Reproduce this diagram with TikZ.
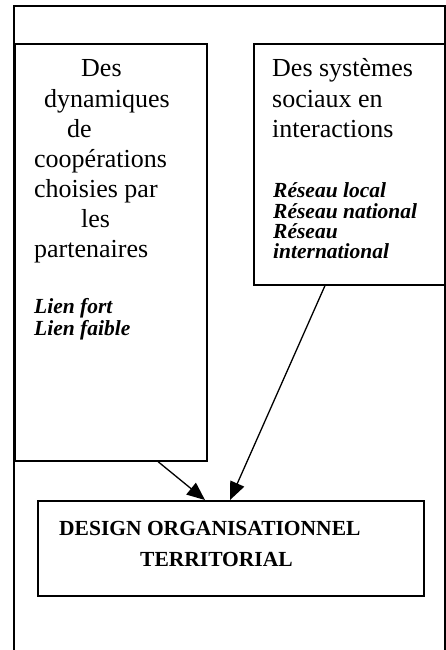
\documentclass[tikz,border=0pt]{standalone}
\usepackage{fontspec}
\setmainfont{Liberation Serif}
\usetikzlibrary{arrows.meta}
\begin{document}
\begin{tikzpicture}[x=1pt,y=-1pt,
  frame/.style={line width=1.6pt},
  boxnode/.style={draw,line width=1.6pt,anchor=north west,inner sep=0pt},
  txt/.style={anchor=base west,inner sep=0pt,font=\fontsize{26}{30}\selectfont},
  itx/.style={anchor=base west,inner sep=0pt,font=\fontsize{21.5}{21}\selectfont\bfseries\itshape},
  bld/.style={anchor=base west,inner sep=0pt,font=\fontsize{21.5}{30}\selectfont\bfseries},
  arr/.style={line width=1.3pt,-{Triangle[length=18pt,width=15pt]}}]
\useasboundingbox (0,0) rectangle (446,650);
% outer frame (open at bottom)
\draw[frame] (14,660) -- (14,6) -- (445,6) -- (445,660);
% boxes
\node[boxnode,minimum width=192pt,minimum height=417pt] (L) at (14,43) {};
\node[boxnode,minimum width=192pt,minimum height=241pt] (R) at (253,43) {};
\node[boxnode,minimum width=386pt,minimum height=95pt] (B) at (37,500) {};
% left box text
\node[txt] (l1) at (81,77) {Des};
\node[txt] (l2) at (44,107) {dynamiques};
\node[txt] (l3) at (67,137) {de};
\node[txt] (l4) at (34,167) {coopérations};
\node[txt] (l5) at (34,197) {choisies par};
\node[txt] (l6) at (81,227) {les};
\node[txt] (l7) at (34,257) {partenaires};
\node[itx] (l8) at (34,313) {Lien fort};
\node[itx] (l9) at (34,335) {Lien faible};
% right box text
\node[txt] (r1) at (272,77) {Des systèmes};
\node[txt] (r2) at (272,107) {sociaux en};
\node[txt] (r3) at (272,137) {interactions};
\node[itx] (r4) at (273,197) {Réseau local};
\node[itx] (r5) at (273,218) {Réseau national};
\node[itx] (r6) at (273,238) {Réseau};
\node[itx] (r7) at (273,258) {international};
% bottom box text
\node[bld] (b1) at (59,535) {DESIGN ORGANISATIONNEL};
\node[bld] (b2) at (140,566) {TERRITORIAL};
% arrows
\coordinate (a1s) at (L.south west -| 158,0);
\coordinate (a1e) at (B.north west -| 205,0);
\coordinate (a2s) at (R.south west -| 325,0);
\coordinate (a2e) at (B.north west -| 230,0);
\draw[arr] (a1s) -- (a1e);
\draw[arr] (a2s) -- (a2e);
\end{tikzpicture}
\end{document}
